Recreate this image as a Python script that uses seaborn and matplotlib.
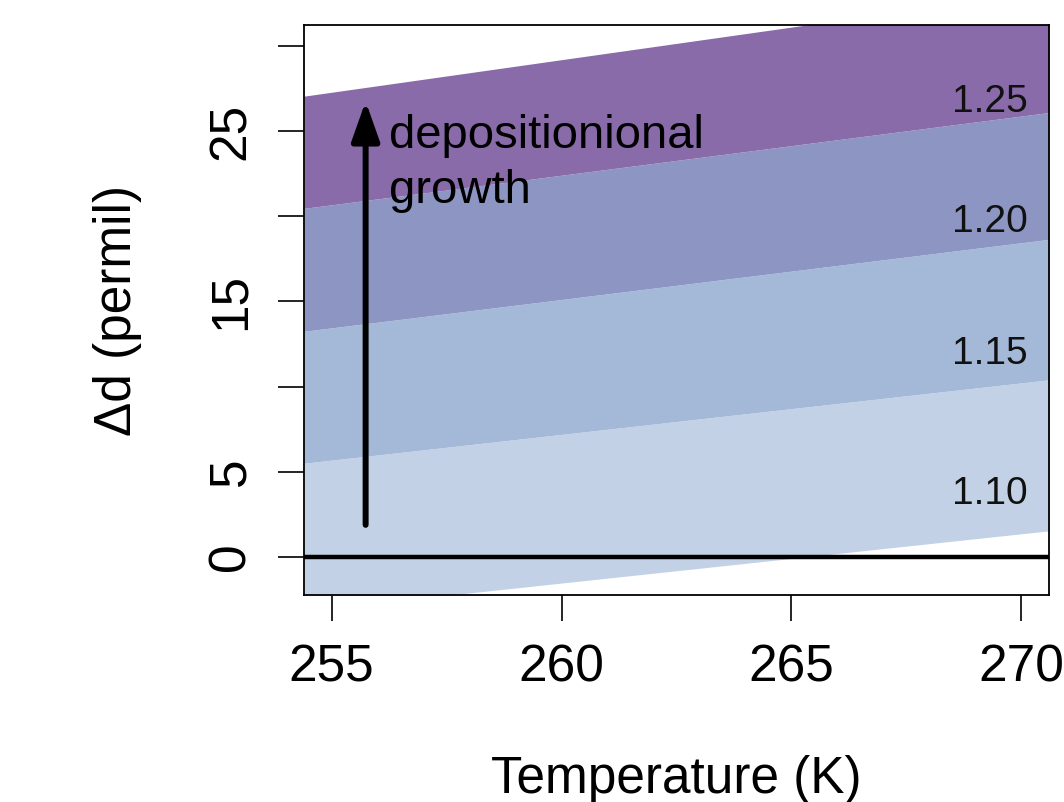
import matplotlib
matplotlib.use("Agg")
import matplotlib.pyplot as plt
import seaborn as sns

# ---- data ----
temps = [254.4, 270.6]                      # K, left/right ends of the band edges
edge_110_low = [-3.16, 1.53]
edge_110_high = [5.5, 10.4]
edge_115_high = [13.25, 18.65]
edge_120_high = [20.47, 26.1]
edge_125_high = [27.06, 33.26]
band_labels = ["1.10", "1.15", "1.20", "1.25"]
band_colors = ["#c2d1e5", "#a4b9d7", "#8d95c3", "#896baa"]
label_y = [3.7, 11.9, 19.65, 26.7]
label_x = 270.13

arrow_x = 255.74
arrow_y0 = 1.88
arrow_y1 = 26.76

x_ticks = [255, 260, 265, 270]
y_ticks = [0, 5, 10, 15, 20, 25, 30]
y_tick_labels = ["0", "5", "", "15", "", "25", ""]

sns.set_style("ticks")
plt.rcParams["font.family"] = ["Liberation Sans", "DejaVu Sans"]
plt.rcParams.update({"text.color": "black", "axes.labelcolor": "black",
                     "xtick.color": "black", "ytick.color": "black",
                     "axes.edgecolor": "black"})

fig = plt.figure(figsize=(10.64, 8.02), dpi=100)
ax = fig.add_axes([304 / 1064, 1 - 595 / 802, (1049 - 304) / 1064, (595 - 25) / 802])

edges = [edge_110_low, edge_110_high, edge_115_high, edge_120_high, edge_125_high]
for i in range(4):
    ax.fill_between(temps, edges[i], edges[i + 1], color=band_colors[i], lw=0, zorder=1)

for lab, y in zip(band_labels, label_y):
    ax.text(label_x, y, lab, ha="right", va="center", fontsize=28, color="#111111", zorder=3)

ax.axhline(0, color="black", lw=3.2, zorder=2)

ax.annotate("", xy=(arrow_x, arrow_y1), xytext=(arrow_x, arrow_y0),
            arrowprops=dict(arrowstyle="-|>,head_length=2.4,head_width=0.85",
                            mutation_scale=10, lw=4.3, color="black",
                            shrinkA=0, shrinkB=0), zorder=4)
ax.text(256.24, 23.1, "depositionional\ngrowth", ha="left", va="center",
        fontsize=34, linespacing=1.33, color="black", zorder=4)

ax.set_xlim(254.4, 270.6)
ax.set_ylim(-2.24, 31.24)
ax.set_xticks(x_ticks)
ax.set_xticklabels([str(t) for t in x_ticks])
ax.set_yticks(y_ticks)
ax.set_yticklabels(y_tick_labels, rotation=90, va="center")

ax.tick_params(axis="both", direction="out", length=18.7, width=1.2,
               color="black", labelcolor="black", labelsize=37, pad=16)
for s in ax.spines.values():
    s.set_visible(True)
    s.set_linewidth(1.3)
    s.set_color("black")
    s.set_zorder(5)

ax.set_xlabel("Temperature (K)", fontsize=37, va="center")
ax.xaxis.set_label_coords(0.5, (595 - 779) / 570)
ax.set_ylabel("\u0394d (permil)", fontsize=37, va="center")
ax.yaxis.set_label_coords((117 - 304) / 745, 0.5)

fig.savefig("out.png", dpi=100)
